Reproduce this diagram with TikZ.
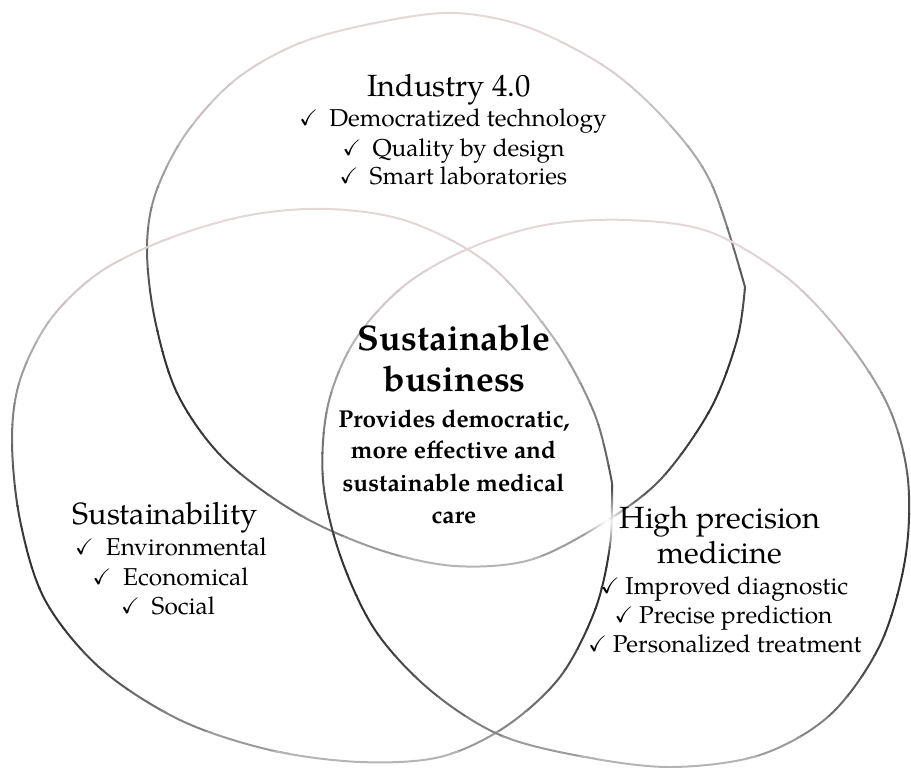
\documentclass[tikz,border=0pt]{standalone}
\usepackage{amssymb}
\usepackage{graphicx}
\usepackage{fontspec}
\setmainfont{TeX Gyre Pagella}
\usetikzlibrary{fadings}
\definecolor{lpink}{RGB}{240,224,224}
\tikzfading[name=softdot, inner color=transparent!0, outer color=transparent!100]
\newcommand\mychk[1]{\makebox[#1][l]{\raisebox{0.5pt}{\scalebox{0.92}{$\checkmark$}}}}
\newcommand\toppath{plot[smooth, tension=0.55] coordinates {(745,287) (712,185) (670,125) (610,70) (530,28) (455,13) (380,22) (300,43) (235,80) (185,135) (155,195) (147,250) (155,320) (178,395) (225,460) (300,515) (380,550) (455,566) (530,560) (600,525) (660,480) (710,410) (737,340) (745,287)}}
\newcommand\leftpath{plot[smooth, tension=0.55] coordinates {(612,483) (595,415) (555,340) (490,265) (410,222) (330,209) (250,215) (170,238) (100,272) (50,320) (20,380) (12,440) (20,520) (45,600) (100,668) (180,720) (270,750) (360,762) (440,757) (505,727) (560,677) (595,610) (610,545) (612,483)}}
\newcommand\rightpath{plot[smooth cycle, tension=0.55] coordinates {(627,220) (710,232) (790,280) (850,345) (890,410) (908,480) (905,560) (880,645) (830,715) (760,755) (672,767) (585,757) (500,735) (430,690) (375,630) (340,555) (323,480) (328,405) (355,340) (405,285) (470,248) (545,225)}}
% draw a loop in horizontal bands, light at the top, darkest low down
\newcommand\gradloop[3]{%
  \foreach \i in {0,...,27}{%
    \pgfmathsetmacro\uu{max(0.001,min(0.999,\i/27))}%
    \pgfmathsetmacro\ya{#2+(\i-0.5)*(#3-#2)/27-(\i==0)*20}%
    \pgfmathsetmacro\yb{#2+(\i+0.5)*(#3-#2)/27+0.4+(\i==27)*20}%
    \pgfmathsetmacro\dk{min(80,4+70*sin(180*(\uu^1.6))+25*\uu*\uu*\uu)}%
    \pgfmathsetmacro\pk{100*(1-\uu)*(1-\uu)}%
    \colorlet{mkbase}{lpink!\pk!white}%
    \colorlet{mkc}{black!\dk!mkbase}%
    \begin{scope}
      \clip (-20,\ya) rectangle (931,\yb);
      \draw[loopline, draw=mkc] #1;
    \end{scope}
  }%
}
\tikzset{
  loopline/.style={line width=1.5pt},
  head/.style={anchor=base, inner sep=0pt, font=\fontsize{23}{27}\selectfont},
  item/.style={anchor=base, inner sep=0pt, font=\fontsize{18.3}{22}\selectfont},
  bighead/.style={anchor=base, inner sep=0pt, font=\fontsize{26.7}{31}\selectfont\bfseries},
  bolditem/.style={anchor=base, inner sep=0pt, font=\fontsize{18.3}{22}\selectfont\bfseries}
}
\begin{document}
\begin{tikzpicture}[x=0.75pt,y=-0.75pt]
\useasboundingbox (0,0) rectangle (911,768);
\gradloop{\toppath}{12}{567}
\gradloop{\leftpath}{209}{762}
\gradloop{\rightpath}{220}{767}
% soft white glow
\fill[white, path fading=softdot] (607,522) circle (34);
% Industry 4.0
\node[head] (ind) at (449,96) {Industry 4.0};
\node[item] (ind1) at (453,126) {\mychk{22.5pt}Democratized technology};
\node[item] (ind2) at (453.5,156) {\mychk{22.5pt}Quality by design};
\node[item] (ind3) at (453.5,184) {\mychk{22.5pt}Smart laboratories};
% centre
\node[bighead] (sb1) at (454,350) {Sustainable};
\node[bighead] (sb2) at (454.5,391) {business};
\node[bolditem] (sb3) at (454,427) {Provides democratic,};
\node[bolditem] (sb4) at (453.5,458) {more effective and};
\node[bolditem] (sb5) at (453.5,491) {sustainable medical};
\node[bolditem] (sb6) at (454,523) {care};
% Sustainability
\node[head] (sus) at (165,524) {Sustainability};
\node[item] (sus1) at (171,555) {\mychk{23pt}Environmental};
\node[item] (sus2) at (170.5,585) {\mychk{23pt}Economical};
\node[item] (sus3) at (168,614) {\mychk{23pt}Social};
% High precision medicine
\node[head] (hpm1) at (720,528) {High precision};
\node[head] (hpm2) at (720,563) {medicine};
\node[item] (hpm3) at (724.5,594) {\mychk{18.5pt}Improved diagnostic};
\node[item] (hpm4) at (723.5,623) {\mychk{18.5pt}Precise prediction};
\node[item] (hpm5) at (725,652) {\mychk{18.5pt}Personalized treatment};
\end{tikzpicture}
\end{document}
